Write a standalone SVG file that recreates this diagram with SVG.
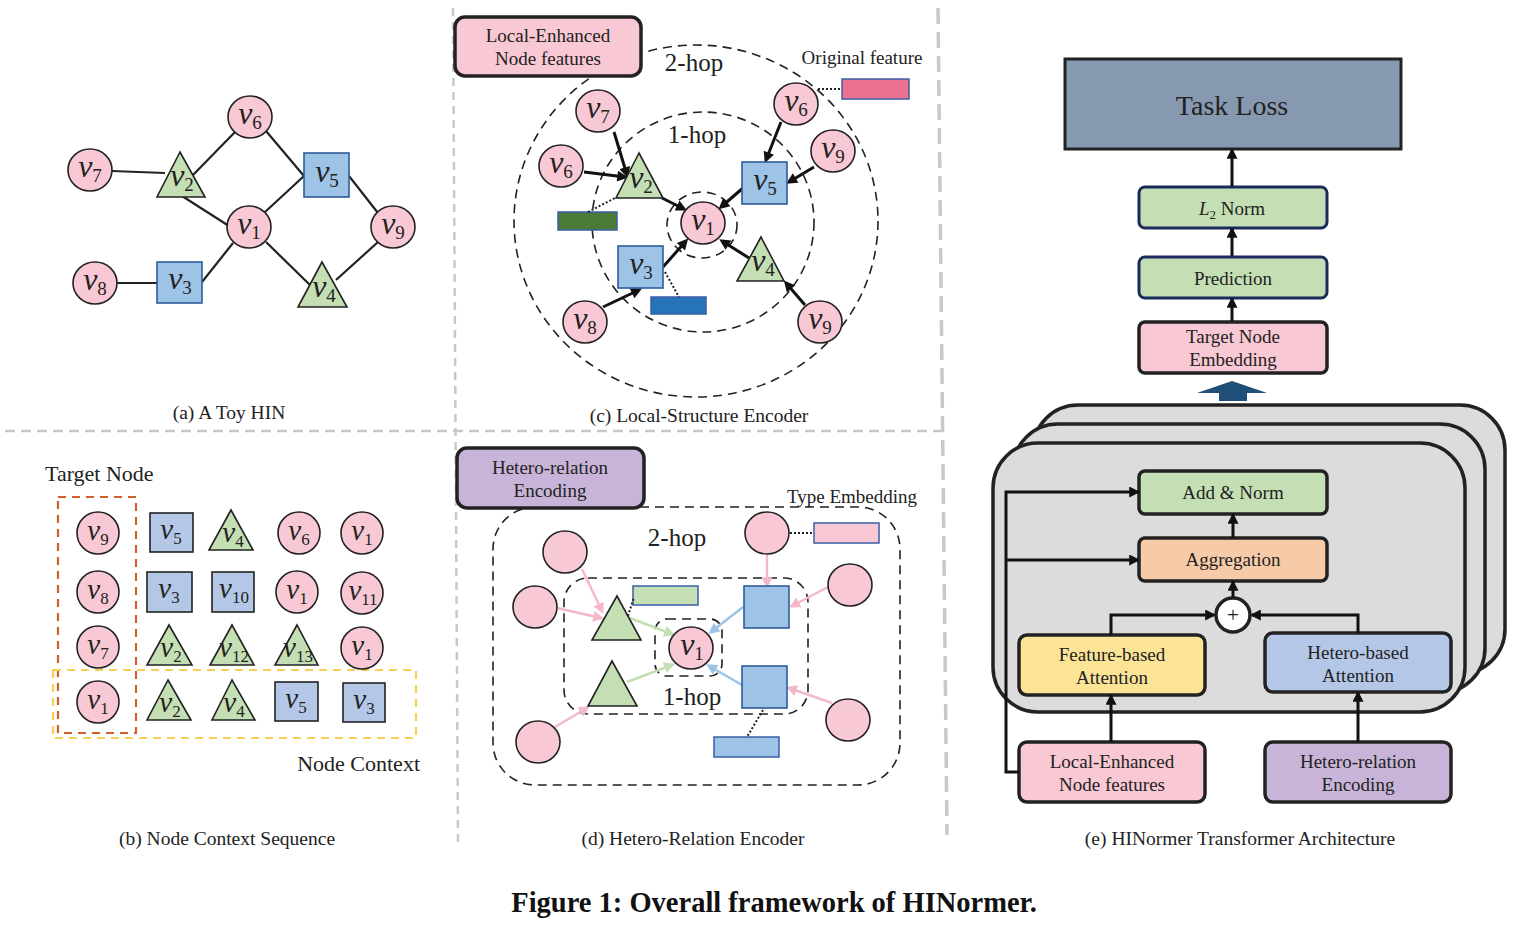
<svg xmlns="http://www.w3.org/2000/svg" width="1526" height="925" viewBox="0 0 1526 925">
<style>
.sep{stroke:#c8c8c8;fill:none}
.nc{fill:#f8c8d4;stroke:#222;stroke-width:1.6}
.ns{fill:#9dc3e6;stroke:#2e5c9a;stroke-width:1.6}
.nsb{fill:#b4c7e7;stroke:#222;stroke-width:1.6}
.nt{fill:#c4dfb4;stroke:#222;stroke-width:1.6}
.ed{stroke:#222;stroke-width:2.2;fill:none}
.ar{stroke:#111;stroke-width:3;fill:none;marker-end:url(#ah)}
.dash{stroke:#222;stroke-width:1.6;fill:none;stroke-dasharray:9 6}
.dot{stroke:#222;stroke-width:2;fill:none;stroke-dasharray:2 2}
.v{font-family:"Liberation Serif",serif;font-style:italic;font-size:32px;fill:#222;text-anchor:middle}
.v tspan{font-style:normal;font-size:19px}
.vs{font-family:"Liberation Serif",serif;font-style:italic;font-size:29px;fill:#222;text-anchor:middle}
.vs tspan{font-style:normal;font-size:17px}
.t{font-family:"Liberation Serif",serif;fill:#222;text-anchor:middle}
.cap{font-family:"Liberation Serif",serif;font-size:19.5px;fill:#222;text-anchor:middle}
.box{stroke:#222;stroke-width:3.5}
.boxn{stroke:#1a2a5a;stroke-width:3}
.arp{stroke:#f4b8c8;stroke-width:2.5;fill:none;marker-end:url(#ahp)}
.arg{stroke:#c4dfb4;stroke-width:2.5;fill:none;marker-end:url(#ahg)}
.arb{stroke:#9dc3e6;stroke-width:2.5;fill:none;marker-end:url(#ahb)}
.ae{stroke:#111;stroke-width:3;fill:none;marker-end:url(#ahe)}
</style>
<defs>
<marker id="ah" viewBox="0 0 10 10" refX="7" refY="5" markerWidth="12" markerHeight="11" markerUnits="userSpaceOnUse" orient="auto"><path d="M0,0 L10,5 L0,10 z" fill="#111"/></marker>
<marker id="ahp" viewBox="0 0 10 10" refX="7" refY="5" markerWidth="12" markerHeight="11" markerUnits="userSpaceOnUse" orient="auto"><path d="M0,0 L10,5 L0,10 z" fill="#f4b8c8"/></marker>
<marker id="ahg" viewBox="0 0 10 10" refX="7" refY="5" markerWidth="12" markerHeight="11" markerUnits="userSpaceOnUse" orient="auto"><path d="M0,0 L10,5 L0,10 z" fill="#c4dfb4"/></marker>
<marker id="ahb" viewBox="0 0 10 10" refX="7" refY="5" markerWidth="12" markerHeight="11" markerUnits="userSpaceOnUse" orient="auto"><path d="M0,0 L10,5 L0,10 z" fill="#9dc3e6"/></marker>
<marker id="ahe" viewBox="0 0 10 10" refX="8" refY="5" markerWidth="11" markerHeight="11" markerUnits="userSpaceOnUse" orient="auto"><path d="M0,0 L10,5 L0,10 z" fill="#111"/></marker>
</defs>
<rect width="1526" height="925" fill="#fff"/>

<!-- separators -->
<g id="separators">
<line class="sep" x1="453" y1="8" x2="458" y2="845" stroke-width="2.5" stroke-dasharray="8 6"/>
<line class="sep" x1="5" y1="431" x2="942" y2="431" stroke-width="2.5" stroke-dasharray="10 6"/>
<line class="sep" x1="938" y1="8" x2="947" y2="835" stroke-width="3.5" stroke-dasharray="16 8"/>
</g>

<!-- (a) Toy HIN -->
<g id="panel-a-edges">
<line class="ed" x1="112" y1="171" x2="165" y2="173"/>
<line class="ed" x1="193" y1="175" x2="236" y2="131"/>
<line class="ed" x1="266" y1="131" x2="304" y2="176"/>
<line class="ed" x1="182" y1="196" x2="229" y2="226"/>
<line class="ed" x1="265" y1="212" x2="304" y2="176"/>
<line class="ed" x1="349" y1="176" x2="378" y2="213"/>
<line class="ed" x1="233" y1="243" x2="202" y2="282"/>
<line class="ed" x1="266" y1="242" x2="310" y2="285"/>
<line class="ed" x1="336" y1="280" x2="378" y2="242"/>
<line class="ed" x1="117" y1="283" x2="157" y2="283" stroke-width="3.2"/>
</g>
<g id="a-v6"><ellipse class="nc" cx="250" cy="117" rx="22" ry="21"/><text class="v" x="250" y="124">v<tspan dy="5">6</tspan></text></g>
<g id="a-v7"><ellipse class="nc" cx="90" cy="170" rx="22" ry="21"/><text class="v" x="90" y="177">v<tspan dy="5">7</tspan></text></g>
<g id="a-v2"><polygon class="nt" points="180,152 157,197 205,197"/><text class="v" x="182" y="186">v<tspan dy="5">2</tspan></text></g>
<g id="a-v5"><rect class="ns" x="304" y="153" width="45" height="44"/><text class="v" x="327" y="182">v<tspan dy="5">5</tspan></text></g>
<g id="a-v1"><ellipse class="nc" cx="249" cy="227" rx="22" ry="21"/><text class="v" x="249" y="234">v<tspan dy="5">1</tspan></text></g>
<g id="a-v9"><ellipse class="nc" cx="393" cy="227" rx="22" ry="21"/><text class="v" x="393" y="234">v<tspan dy="5">9</tspan></text></g>
<g id="a-v8"><ellipse class="nc" cx="95" cy="283" rx="22" ry="21"/><text class="v" x="95" y="290">v<tspan dy="5">8</tspan></text></g>
<g id="a-v3"><rect class="ns" x="157" y="262" width="45" height="41"/><text class="v" x="180" y="289">v<tspan dy="5">3</tspan></text></g>
<g id="a-v4"><polygon class="nt" points="322,262 298,307 347,307"/><text class="v" x="324" y="297">v<tspan dy="5">4</tspan></text></g>
<text class="cap" x="229" y="419">(a) A Toy HIN</text>

<!-- (c) Local-Structure Encoder -->
<g id="panel-c-rings">
<ellipse class="dash" cx="696" cy="221" rx="182" ry="176"/>
<ellipse class="dash" cx="703" cy="222" rx="111" ry="110"/>
<ellipse class="dash" cx="702" cy="225" rx="35" ry="33"/>
</g>
<g id="c-local-enhanced"><rect class="box" x="455" y="17" width="186" height="59" rx="10" fill="#f8c8d4"/><text class="t" x="548" y="42" font-size="19">Local-Enhanced</text><text class="t" x="548" y="65" font-size="19">Node features</text></g>
<text class="t" x="694" y="71" font-size="25">2-hop</text>
<text class="t" x="697" y="143" font-size="25">1-hop</text>
<text class="t" x="862" y="64" font-size="19">Original feature</text>
<g id="c-feature-rects">
<rect x="842" y="79" width="67" height="20" fill="#ee7090" stroke="#3a5fa8" stroke-width="1.5"/>
<rect x="558" y="212" width="59" height="18" fill="#4a7a35" stroke="#3a5fa8" stroke-width="1.5"/>
<rect x="651" y="297" width="55" height="17" fill="#2673b8" stroke="#3a5fa8" stroke-width="1.5"/>
<line class="dot" x1="818" y1="89" x2="842" y2="89"/>
<line class="dot" x1="588" y1="212" x2="615" y2="198"/>
<line class="dot" x1="665" y1="272" x2="679" y2="297"/>
</g>
<g id="panel-c-connectors">
<line class="ar" x1="614" y1="132" x2="627" y2="175"/>
<line class="ar" x1="584" y1="172" x2="625" y2="177"/>
<line class="ar" x1="662" y1="198" x2="684" y2="209"/>
<line class="ar" x1="743" y1="188" x2="721" y2="207"/>
<line class="ar" x1="781" y1="122" x2="766" y2="160"/>
<line class="ar" x1="814" y1="167" x2="789" y2="182"/>
<line class="ar" x1="663" y1="267" x2="686" y2="241"/>
<line class="ar" x1="749" y1="258" x2="722" y2="241"/>
<line class="ar" x1="603" y1="307" x2="639" y2="290"/>
<line class="ar" x1="805" y1="305" x2="786" y2="283"/>
</g>
<g id="c-v7"><ellipse class="nc" cx="598" cy="111" rx="22" ry="21"/><text class="v" x="598" y="118">v<tspan dy="5">7</tspan></text></g>
<g id="c-v6a"><ellipse class="nc" cx="561" cy="166" rx="22" ry="21"/><text class="v" x="561" y="173">v<tspan dy="5">6</tspan></text></g>
<g id="c-v6b"><ellipse class="nc" cx="796" cy="104" rx="22" ry="21"/><text class="v" x="796" y="111">v<tspan dy="5">6</tspan></text></g>
<g id="c-v9a"><ellipse class="nc" cx="833" cy="151" rx="22" ry="21"/><text class="v" x="833" y="158">v<tspan dy="5">9</tspan></text></g>
<g id="c-v2"><polygon class="nt" points="639,153 616,198 663,198"/><text class="v" x="641" y="188">v<tspan dy="5">2</tspan></text></g>
<g id="c-v5"><rect class="ns" x="742" y="162" width="45" height="42"/><text class="v" x="765" y="190">v<tspan dy="5">5</tspan></text></g>
<g id="c-v1"><ellipse class="nc" cx="703" cy="223" rx="22" ry="21"/><text class="v" x="703" y="230">v<tspan dy="5">1</tspan></text></g>
<g id="c-v3"><rect class="ns" x="618" y="246" width="45" height="42"/><text class="v" x="641" y="274">v<tspan dy="5">3</tspan></text></g>
<g id="c-v4"><polygon class="nt" points="761,237 737,281 784,281"/><text class="v" x="763" y="271">v<tspan dy="5">4</tspan></text></g>
<g id="c-v8"><ellipse class="nc" cx="585" cy="322" rx="22" ry="21"/><text class="v" x="585" y="329">v<tspan dy="5">8</tspan></text></g>
<g id="c-v9b"><ellipse class="nc" cx="820" cy="322" rx="22" ry="21"/><text class="v" x="820" y="329">v<tspan dy="5">9</tspan></text></g>
<text class="cap" x="699" y="422">(c) Local-Structure Encoder</text>

<!-- (b) Node Context Sequence -->
<text class="t" x="45" y="481" font-size="22" style="text-anchor:start">Target Node</text>
<rect x="58" y="497" width="78" height="236" fill="none" stroke="#d0602a" stroke-width="2.2" stroke-dasharray="8 6"/>
<rect x="53" y="670" width="363" height="68" fill="none" stroke="#f8d050" stroke-width="2.2" stroke-dasharray="8 6"/>
<text class="t" x="420" y="771" font-size="22" style="text-anchor:end">Node Context</text>
<g id="b-r1">
<g id="b-v9"><ellipse class="nc" cx="98" cy="533" rx="21" ry="21"/><text class="vs" x="98" y="540">v<tspan dy="5">9</tspan></text></g>
<g id="b-v5a"><rect class="nsb" x="150" y="513" width="43" height="39"/><text class="vs" x="171" y="539">v<tspan dy="5">5</tspan></text></g>
<g id="b-v4a"><polygon class="nt" points="231,510 209,550 253,550"/><text class="vs" x="233" y="542">v<tspan dy="5">4</tspan></text></g>
<g id="b-v6"><ellipse class="nc" cx="299" cy="533" rx="21" ry="21"/><text class="vs" x="299" y="540">v<tspan dy="5">6</tspan></text></g>
<g id="b-v1a"><ellipse class="nc" cx="362" cy="533" rx="21" ry="21"/><text class="vs" x="362" y="540">v<tspan dy="5">1</tspan></text></g>
</g>
<g id="b-r2">
<g id="b-v8"><ellipse class="nc" cx="98" cy="592" rx="21" ry="21"/><text class="vs" x="98" y="599">v<tspan dy="5">8</tspan></text></g>
<g id="b-v3a"><rect class="nsb" x="147" y="572" width="45" height="40"/><text class="vs" x="169" y="598">v<tspan dy="5">3</tspan></text></g>
<g id="b-v10"><rect class="nsb" x="212" y="572" width="42" height="40"/><text class="vs" x="234" y="598">v<tspan dy="5">10</tspan></text></g>
<g id="b-v1b"><ellipse class="nc" cx="297" cy="592" rx="21" ry="21"/><text class="vs" x="297" y="599">v<tspan dy="5">1</tspan></text></g>
<g id="b-v11"><ellipse class="nc" cx="362" cy="593" rx="21" ry="21"/><text class="vs" x="363" y="600">v<tspan dy="5">11</tspan></text></g>
</g>
<g id="b-r3">
<g id="b-v7"><ellipse class="nc" cx="98" cy="647" rx="21" ry="21"/><text class="vs" x="98" y="654">v<tspan dy="5">7</tspan></text></g>
<g id="b-v2a"><polygon class="nt" points="169,625 147,665 192,665"/><text class="vs" x="171" y="657">v<tspan dy="5">2</tspan></text></g>
<g id="b-v12"><polygon class="nt" points="232,625 210,665 254,665"/><text class="vs" x="234" y="657">v<tspan dy="5">12</tspan></text></g>
<g id="b-v13"><polygon class="nt" points="297,625 275,665 318,665"/><text class="vs" x="298" y="657">v<tspan dy="5">13</tspan></text></g>
<g id="b-v1c"><ellipse class="nc" cx="362" cy="648" rx="21" ry="21"/><text class="vs" x="362" y="655">v<tspan dy="5">1</tspan></text></g>
</g>
<g id="b-r4">
<g id="b-v1d"><ellipse class="nc" cx="98" cy="702" rx="21" ry="21"/><text class="vs" x="98" y="709">v<tspan dy="5">1</tspan></text></g>
<g id="b-v2b"><polygon class="nt" points="168,680 147,720 191,720"/><text class="vs" x="170" y="712">v<tspan dy="5">2</tspan></text></g>
<g id="b-v4b"><polygon class="nt" points="232,680 212,720 255,720"/><text class="vs" x="234" y="712">v<tspan dy="5">4</tspan></text></g>
<g id="b-v5b"><rect class="nsb" x="275" y="682" width="43" height="39"/><text class="vs" x="296" y="708">v<tspan dy="5">5</tspan></text></g>
<g id="b-v3b"><rect class="nsb" x="343" y="683" width="42" height="39"/><text class="vs" x="364" y="709">v<tspan dy="5">3</tspan></text></g>
</g>
<text class="cap" x="227" y="845">(b) Node Context Sequence</text>

<!-- (d) Hetero-Relation Encoder -->
<rect class="dash" x="493" y="507" width="407" height="278" rx="42"/>
<rect class="dash" x="564" y="578" width="244" height="136" rx="24"/>
<rect class="dash" x="655" y="619" width="67" height="57" rx="12"/>
<g id="d-hetero-encoding"><rect class="box" x="457" y="448" width="187" height="60" rx="10" fill="#c8b4d8"/><text class="t" x="550" y="474" font-size="19">Hetero-relation</text><text class="t" x="550" y="497" font-size="19">Encoding</text></g>
<text class="t" x="852" y="503" font-size="19">Type Embedding</text>
<text class="t" x="677" y="546" font-size="25">2-hop</text>
<text class="t" x="692" y="705" font-size="25">1-hop</text>
<g id="d-type-rects">
<rect x="814" y="523" width="65" height="20" fill="#f8c8d4" stroke="#3a5fa8" stroke-width="1.5"/>
<rect x="633" y="586" width="65" height="19" fill="#c4dfb4" stroke="#3a5fa8" stroke-width="1.5"/>
<rect x="714" y="737" width="65" height="20" fill="#9dc3e6" stroke="#3a5fa8" stroke-width="1.5"/>
<line class="dot" x1="790" y1="533" x2="814" y2="533"/>
<line class="dot" x1="628" y1="616" x2="634" y2="597"/>
<line class="dot" x1="763" y1="710" x2="747" y2="737"/>
</g>
<g id="panel-d-connectors">
<line class="arp" x1="582" y1="569" x2="602" y2="611"/>
<line class="arp" x1="557" y1="608" x2="601" y2="618"/>
<line class="arp" x1="555" y1="727" x2="587" y2="708"/>
<line class="arp" x1="767" y1="555" x2="767" y2="585"/>
<line class="arp" x1="828" y1="587" x2="792" y2="606"/>
<line class="arp" x1="832" y1="703" x2="789" y2="688"/>
<line class="arg" x1="630" y1="618" x2="672" y2="634"/>
<line class="arg" x1="627" y1="682" x2="672" y2="665"/>
<line class="arb" x1="743" y1="607" x2="711" y2="632"/>
<line class="arb" x1="742" y1="685" x2="709" y2="666"/>
</g>
<g id="d-c1"><ellipse class="nc" cx="565" cy="552" rx="22" ry="21"/></g>
<g id="d-c2"><ellipse class="nc" cx="535" cy="607" rx="22" ry="21"/></g>
<g id="d-c3"><ellipse class="nc" cx="538" cy="742" rx="22" ry="21"/></g>
<g id="d-c4"><ellipse class="nc" cx="767" cy="533" rx="22" ry="21"/></g>
<g id="d-c5"><ellipse class="nc" cx="850" cy="585" rx="22" ry="21"/></g>
<g id="d-c6"><ellipse class="nc" cx="848" cy="720" rx="22" ry="21"/></g>
<g id="d-t1"><polygon class="nt" points="617,596 592,640 641,640"/></g>
<g id="d-t2"><polygon class="nt" points="612,661 588,706 637,706"/></g>
<g id="d-s1"><rect class="ns" x="744" y="586" width="45" height="42"/></g>
<g id="d-s2"><rect class="ns" x="742" y="666" width="45" height="42"/></g>
<g id="d-v1"><ellipse class="nc" cx="691" cy="648" rx="22" ry="21"/><text class="v" x="692" y="655">v<tspan dy="5">1</tspan></text></g>
<text class="cap" x="693" y="845">(d) Hetero-Relation Encoder</text>

<!-- (e) HINormer Transformer Architecture -->
<g id="e-stack">
<rect x="1033" y="405" width="472" height="269" rx="45" fill="#dcdcdc" stroke="#222" stroke-width="3.5"/>
<rect x="1013" y="424" width="472" height="269" rx="45" fill="#dcdcdc" stroke="#222" stroke-width="3.5"/>
<rect x="993" y="443" width="472" height="269" rx="45" fill="#dcdcdc" stroke="#222" stroke-width="3.5"/>
</g>
<g id="e-task-loss"><rect x="1065" y="59" width="336" height="90" fill="#8799b0" stroke="#222" stroke-width="3"/><text class="t" x="1232" y="115" font-size="28">Task Loss</text></g>
<g id="e-l2"><rect class="boxn" x="1139" y="187" width="188" height="41" rx="6" fill="#c4dfb4"/><text class="t" x="1232" y="215" font-size="19"><tspan font-style="italic">L</tspan><tspan font-size="13" dy="4">2</tspan><tspan dy="-4"> Norm</tspan></text></g>
<g id="e-pred"><rect class="boxn" x="1139" y="257" width="188" height="41" rx="6" fill="#c4dfb4"/><text class="t" x="1233" y="285" font-size="19">Prediction</text></g>
<g id="e-target"><rect class="box" x="1139" y="322" width="188" height="51" rx="6" fill="#f8c8d4"/><text class="t" x="1233" y="343" font-size="19">Target Node</text><text class="t" x="1233" y="366" font-size="19">Embedding</text></g>
<g id="e-block-arrow"><polygon points="1197,393 1232,381 1267,393 1247,393 1247,401 1219,401 1219,393" fill="#1f4e79"/></g>
<g id="e-addnorm"><rect class="box" x="1139" y="471" width="188" height="43" rx="6" fill="#c4dfb4"/><text class="t" x="1233" y="499" font-size="19">Add &amp; Norm</text></g>
<g id="e-agg"><rect class="box" x="1139" y="538" width="188" height="43" rx="6" fill="#f8cba8"/><text class="t" x="1233" y="566" font-size="19">Aggregation</text></g>
<g id="e-plus"><circle cx="1233" cy="615" r="17" fill="#fff" stroke="#222" stroke-width="3.5"/><text class="t" x="1233" y="622" font-size="22">+</text></g>
<g id="e-feat-att"><rect class="box" x="1019" y="635" width="186" height="60" rx="8" fill="#fbe496"/><text class="t" x="1112" y="661" font-size="19">Feature-based</text><text class="t" x="1112" y="684" font-size="19">Attention</text></g>
<g id="e-het-att"><rect class="box" x="1265" y="633" width="186" height="59" rx="8" fill="#b4c7e7"/><text class="t" x="1358" y="659" font-size="19">Hetero-based</text><text class="t" x="1358" y="682" font-size="19">Attention</text></g>
<g id="e-local"><rect class="box" x="1019" y="742" width="186" height="60" rx="8" fill="#f8c8d4"/><text class="t" x="1112" y="768" font-size="19">Local-Enhanced</text><text class="t" x="1112" y="791" font-size="19">Node features</text></g>
<g id="e-hetrel"><rect class="box" x="1265" y="742" width="186" height="60" rx="8" fill="#c8b4d8"/><text class="t" x="1358" y="768" font-size="19">Hetero-relation</text><text class="t" x="1358" y="791" font-size="19">Encoding</text></g>
<g id="panel-e-connectors">
<line class="ae" x1="1232" y1="186" x2="1232" y2="150"/>
<line class="ae" x1="1232" y1="256" x2="1232" y2="229"/>
<line class="ae" x1="1232" y1="321" x2="1232" y2="299"/>
<line class="ae" x1="1233" y1="538" x2="1233" y2="515"/>
<line class="ae" x1="1233" y1="598" x2="1233" y2="582"/>
<polyline class="ae" points="1111,635 1111,615 1214,615"/>
<polyline class="ae" points="1358,633 1358,615 1252,615"/>
<line class="ae" x1="1111" y1="742" x2="1111" y2="696"/>
<line class="ae" x1="1358" y1="742" x2="1358" y2="693"/>
<polyline class="ae" points="1019,772 1006,772 1006,492 1138,492"/>
<line class="ae" x1="1006" y1="560" x2="1138" y2="560"/>
</g>
<text class="cap" x="1240" y="845">(e) HINormer Transformer Architecture</text>

<text x="774" y="912" font-family="Liberation Serif, serif" font-weight="bold" font-size="28.5" fill="#111" text-anchor="middle">Figure 1: Overall framework of HINormer.</text>
</svg>
